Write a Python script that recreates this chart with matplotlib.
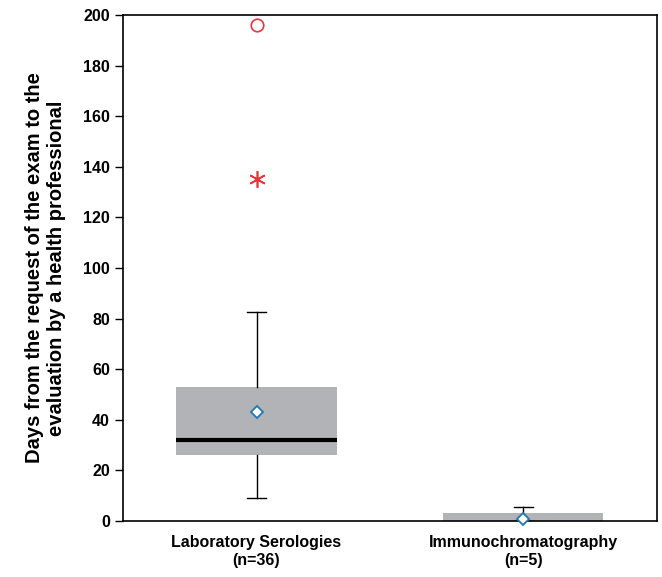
import numpy as np
import matplotlib.pyplot as plt

plt.rcParams['font.family'] = ['Liberation Sans', 'DejaVu Sans']
plt.rcParams['font.weight'] = 'bold'

groups = ['Laboratory Serologies\n(n=36)', 'Immunochromatography\n(n=5)']
q1 = [26, 0]
med = [32, 0]
q3 = [53, 3]
whislo = [9, 0]
whishi = [82.5, 5.5]
means = [43, 1]
mild_out = [[196], []]
far_out = [[135], []]

stats = []
for i in range(len(groups)):
    stats.append(dict(med=med[i], q1=q1[i], q3=q3[i], whislo=whislo[i], whishi=whishi[i],
                      mean=means[i], fliers=[]))

fig = plt.figure(figsize=(6.62, 5.77), dpi=100)
ax = fig.add_axes([0.186, 0.097, 0.806, 0.877])

pos = np.arange(1, len(groups) + 1)
bp = ax.bxp(stats, positions=pos, widths=0.6, patch_artist=True, showmeans=True, showfliers=False,
            capwidths=0.07,
            boxprops=dict(facecolor='#b1b3b6', edgecolor='none'),
            medianprops=dict(color='black', linewidth=3),
            whiskerprops=dict(color='black', linewidth=1),
            capprops=dict(color='black', linewidth=1),
            meanprops=dict(marker='D', markerfacecolor='white', markeredgecolor='#1f78b4',
                           markersize=6, markeredgewidth=1.3),
            zorder=2)
# second group's median sits on the axis and is not drawn in the original
bp['medians'][1].set_visible(False)
for m in bp['means']:
    m.set_clip_on(False)
    m.set_zorder(5)

for i in range(len(groups)):
    for v in mild_out[i]:
        ax.plot(pos[i], v, 'o', mfc='none', mec='#e8343c', ms=9, mew=1.2, clip_on=False)
    for v in far_out[i]:
        ax.plot(pos[i], v, marker=(6, 2, 0), color='#e8343c', ms=12, mew=1.2, linestyle='none')

ax.set_xlim(0.5, 2.5)
ax.set_ylim(0, 200)
ax.set_yticks(np.arange(0, 201, 20))
ax.set_xticks(pos)
ax.set_xticklabels(groups, fontsize=11.5, fontweight='bold', linespacing=1.25)
ax.tick_params(axis='x', length=0, pad=10)
ax.tick_params(axis='y', labelsize=11.5, length=6, width=1)
for lab in ax.get_yticklabels():
    lab.set_fontweight('bold')
for s in ax.spines.values():
    s.set_linewidth(1.2)
ax.set_ylabel('Days from the request of the exam to the\nevaluation by a health professional',
              fontsize=14.5, fontweight='bold', labelpad=12, linespacing=1.2)

fig.savefig('out.png', dpi=100)
